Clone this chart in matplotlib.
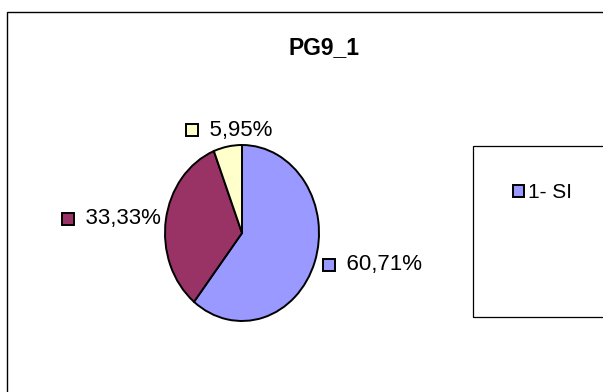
import numpy as np
import matplotlib.pyplot as plt
from matplotlib.patches import Rectangle

plt.rcParams['font.family'] = ['Liberation Sans', 'DejaVu Sans']

# --- datos ---
categorias = ['1- SI', '2- NO', '3- NS/NC']
porcentajes = [60.71, 33.33, 5.95]
colores = ['#9999FF', '#993366', '#FFFFCC']
titulo = 'PG9_1'

W, H = 603, 392
fig = plt.figure(figsize=(W / 100, H / 100), dpi=100)

def px(x0, y0, w, h):
    # caja en pixeles (origen arriba-izquierda) -> fraccion de figura
    return [x0 / W, 1 - (y0 + h) / H, w / W, h / H]

# marco exterior del grafico
fig.patches.append(Rectangle((7 / W, -0.1), 1.0, 1 - 12 / H + 0.1,
                             transform=fig.transFigure, fill=False,
                             edgecolor='black', linewidth=1.0))

fig.text(324 / W, 1 - 48 / H, titulo, ha='center', va='center',
         fontsize=16.5, fontweight='bold')

# pastel (algo ovalado, como en la imagen)
cx, cy, rx, ry = 242, 233, 77, 88
ax = fig.add_axes(px(cx - rx, cy - ry, 2 * rx, 2 * ry))
wedges, _ = ax.pie(porcentajes, colors=colores, startangle=90, counterclock=False,
                   wedgeprops=dict(edgecolor='black', linewidth=1.4))
ax.set_aspect('auto')
ax.set_xlim(-1, 1)
ax.set_ylim(-1, 1)
ax.axis('off')

# etiquetas de datos con su clave de color
fig.canvas.draw()
for w, val, col in zip(wedges, porcentajes, colores):
    ang = np.deg2rad((w.theta1 + w.theta2) / 2)
    c, s = np.cos(ang), np.sin(ang)
    txt = f'{val:.2f}%'.replace('.', ',')
    if abs(c) < 0.3:
        x, y, ha = 1.2 * c + 0.05, 1.19 * s, 'center'
    elif c > 0:
        x, y, ha = 1.1 * c, 1.1 * s, 'left'
    else:
        x, y, ha = 1.07 * c, 1.07 * s, 'right'
    t = ax.text(x, y, '    ' + txt, ha=ha, va='center', fontsize=16, clip_on=False)
    fig.canvas.draw()
    bb = t.get_window_extent()
    mx, my = ax.transData.inverted().transform((bb.x0 + 7, (bb.y0 + bb.y1) / 2))
    ax.plot(mx, my, marker='s', markersize=8,
            markerfacecolor=col, markeredgecolor='black', markeredgewidth=1.4,
            clip_on=False)

# caja de leyenda (recortada por el borde derecho)
fig.patches.append(Rectangle((473 / W, 1 - 317 / H), 1.0, 171 / H,
                             transform=fig.transFigure, fill=False,
                             edgecolor='black', linewidth=0.9))
leg = fig.legend([wedges[0]], [categorias[0]], loc='center left',
                 bbox_to_anchor=(513 / W, 1 - 193 / H), bbox_transform=fig.transFigure,
                 frameon=False, fontsize=15, handlelength=0.55, handleheight=0.55,
                 handletextpad=0.15, borderpad=0, borderaxespad=0)

fig.savefig('out.png', dpi=100)
